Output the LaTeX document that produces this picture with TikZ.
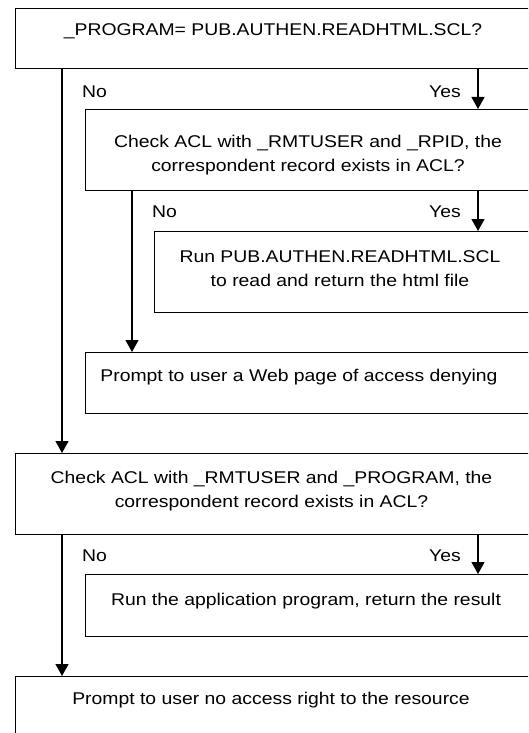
\documentclass[tikz,border=0pt]{standalone}
\usepackage{fontspec}
\setmainfont[FakeStretch=1.14]{Liberation Sans}
\usetikzlibrary{arrows.meta}
\begin{document}
\begin{tikzpicture}[x=1pt,y=-1pt,
  box/.style={draw,line width=1.1pt,rectangle},
  txt/.style={align=center,inner sep=0pt,font=\fontsize{17}{24}\selectfont},
  lbl/.style={inner sep=0pt,font=\fontsize{17}{24}\selectfont},
  arr/.style={line width=1.2pt,-{Triangle[length=12pt,width=13pt]}}]
\useasboundingbox (0,0) rectangle (528,733);
\clip (0,0) rectangle (528,733);
\fill[white] (0,0) rectangle (528,733);
% boxes
\node[box,minimum width=525pt,minimum height=60pt,anchor=north west] (b1) at (15,8) {};
\node[box,minimum width=455pt,minimum height=81pt,anchor=north west] (b2) at (85,109) {};
\node[box,minimum width=386pt,minimum height=81pt,anchor=north west] (b3) at (154,231) {};
\node[box,minimum width=455pt,minimum height=61pt,anchor=north west] (b4) at (85,352) {};
\node[box,minimum width=525pt,minimum height=81pt,anchor=north west] (b5) at (15,453) {};
\node[box,minimum width=455pt,minimum height=62pt,anchor=north west] (b6) at (85,574) {};
\node[box,minimum width=525pt,minimum height=80pt,anchor=north west] (b7) at (15,676) {};
% texts
\node[txt] (t1) at (273,31) {\_PROGRAM= PUB.AUTHEN.READHTML.SCL?};
\node[txt] (t2) at (308,155) {Check ACL with \_RMTUSER and \_RPID, the\\correspondent record exists in ACL?};
\node[txt] (t3) at (340,268.5) {Run PUB.AUTHEN.READHTML.SCL\\to read and return the html file};
\node[txt] (t4) at (299,377) {Prompt to user a Web page of access denying};
\node[txt] (t5) at (271.5,491) {Check ACL with \_RMTUSER and \_PROGRAM, the\\correspondent record exists in ACL?};
\node[txt] (t6) at (306,601) {Run the application program, return the result};
\node[txt] (t7) at (271,700) {Prompt to user no access right to the resource};
% labels
\node[lbl,anchor=west] (n1) at (82,92) {No};
\node[lbl,anchor=east] (y1) at (461,92) {Yes};
\node[lbl,anchor=west] (n2) at (152,212) {No};
\node[lbl,anchor=east] (y2) at (461,212) {Yes};
\node[lbl,anchor=west] (n3) at (82,556) {No};
\node[lbl,anchor=east] (y3) at (461,556) {Yes};
% arrows
\draw[arr] (b1.south west -| 478,0) -- (b2.north west -| 478,0);
\draw[arr] (b2.south west -| 478,0) -- (b3.north west -| 478,0);
\draw[arr] (b5.south west -| 478,0) -- (b6.north west -| 478,0);
\draw[arr] (b1.south west -| 62,0) -- (b5.north west -| 62,0);
\draw[arr] (b2.south west -| 132,0) -- (b4.north west -| 132,0);
\draw[arr] (b5.south west -| 62,0) -- (b7.north west -| 62,0);
\end{tikzpicture}
\end{document}
